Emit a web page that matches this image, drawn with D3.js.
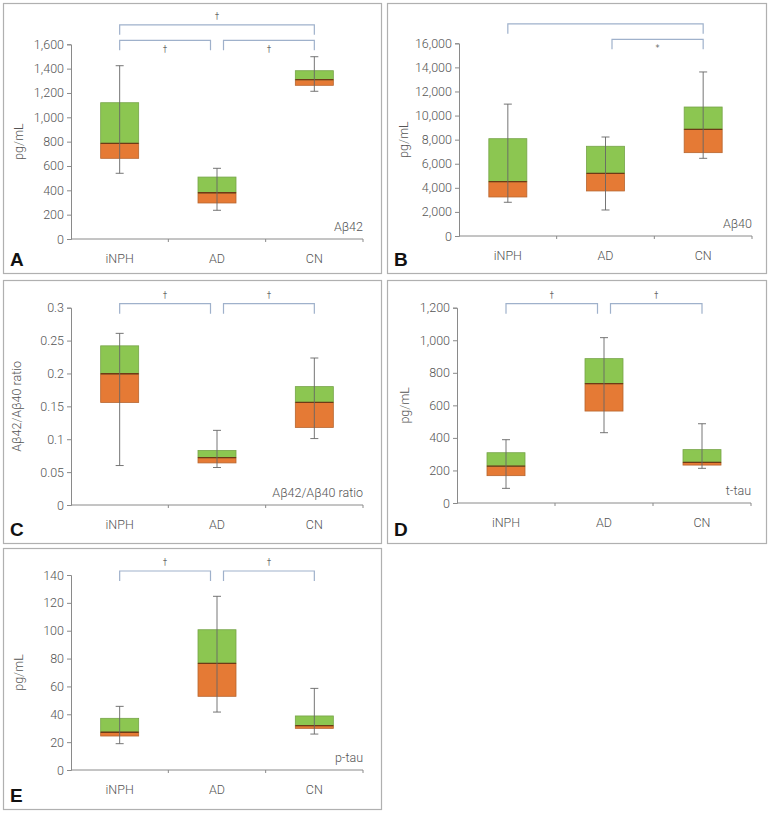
<!DOCTYPE html>
<html>
<head>
<meta charset="utf-8">
<script src="https://cdn.jsdelivr.net/npm/d3@7"></script>
<style>
  body { margin: 0; background: #fff; }
  text { font-family: Roboto, "Open Sans", sans-serif; font-weight: 300; }
</style>
</head>
<body>
<div id="chart"></div>
<script>
const groups = ["iNPH", "AD", "CN"];

// [whisker low, q1, median, q3, whisker high]
const ab42Stats = [[540, 663, 786, 1120, 1424], [236, 296, 380, 509, 581], [1214, 1263, 1309, 1383, 1498]];
const ab42Ticks = [0, 200, 400, 600, 800, 1000, 1200, 1400, 1600];
const ab42Pairs = [[0, 2, 1, "†"], [0, 1, 0, "†"], [1, 2, 0, "†"]];

const ab40Stats = [[2800, 3240, 4510, 8080, 10950], [2160, 3740, 5200, 7450, 8220], [6450, 6920, 8860, 10710, 13620]];
const ab40Ticks = [0, 2000, 4000, 6000, 8000, 10000, 12000, 14000, 16000];
const ab40Pairs = [[0, 2, 1, ""], [1, 2, 0, "*"]];

const ratioStats = [[0.060, 0.156, 0.1996, 0.242, 0.261], [0.057, 0.064, 0.072, 0.083, 0.1135], [0.101, 0.118, 0.156, 0.180, 0.2235]];
const ratioTicks = [0, 0.05, 0.1, 0.15, 0.2, 0.25, 0.3];
const ratioPairs = [[0, 1, 0, "†"], [1, 2, 0, "†"]];

const ttauStats = [[90, 168, 227, 309, 389], [432, 565, 733, 887, 1016], [213, 233, 250, 328, 487]];
const ttauTicks = [0, 200, 400, 600, 800, 1000, 1200];
const ttauPairs = [[0, 1, 0, "†"], [1, 2, 0, "†"]];

const ptauStats = [[18.9, 24.4, 27.1, 37.1, 45.7], [41.6, 52.9, 76.6, 100.7, 124.7], [25.8, 29.9, 31.8, 38.8, 58.6]];
const ptauTicks = [0, 20, 40, 60, 80, 100, 120, 140];
const ptauPairs = [[0, 1, 0, "†"], [1, 2, 0, "†"]];

const green = "#8cc651";
const orange = "#e57a35";
const bracketColor = "#9fb1cb";

const svg = d3.select("#chart").append("svg")
  .attr("width", 770)
  .attr("height", 813);

const panels = [
  {letter: "A", x: 3, y: 3, w: 378, h: 270, left: 71, right: 363, top: 44.3, bottom: 239, titleX: 23,
   stats: ab42Stats, ticks: ab42Ticks, pairs: ab42Pairs, ytitle: "pg/mL", tag: "Aβ42", fmt: d3.format(",")},
  {letter: "B", x: 387, y: 3, w: 379, h: 270, left: 459, right: 752, top: 43.3, bottom: 236, titleX: 408,
   stats: ab40Stats, ticks: ab40Ticks, pairs: ab40Pairs, ytitle: "pg/mL", tag: "Aβ40", fmt: d3.format(",")},
  {letter: "C", x: 3, y: 280, w: 378, h: 263, left: 71, right: 363, top: 307.7, bottom: 505, titleX: 21,
   stats: ratioStats, ticks: ratioTicks, pairs: ratioPairs, ytitle: "Aβ42/Aβ40 ratio", tag: "Aβ42/Aβ40 ratio", fmt: d => String(d)},
  {letter: "D", x: 387, y: 280, w: 379, h: 263, left: 457, right: 751, top: 307.7, bottom: 503, titleX: 409,
   stats: ttauStats, ticks: ttauTicks, pairs: ttauPairs, ytitle: "pg/mL", tag: "t-tau", fmt: d3.format(",")},
  {letter: "E", x: 3, y: 548, w: 378, h: 261, left: 71, right: 363, top: 575, bottom: 770, titleX: 23,
   stats: ptauStats, ticks: ptauTicks, pairs: ptauPairs, ytitle: "pg/mL", tag: "p-tau", fmt: d3.format(",")}
];

panels.forEach(function(p) {
  const g = svg.append("g");

  g.append("rect")
    .attr("x", p.x + 0.5).attr("y", p.y + 0.5)
    .attr("width", p.w).attr("height", p.h)
    .attr("fill", "none")
    .attr("stroke", "#b0b0b0")
    .attr("stroke-width", 1.2);

  const yMax = p.ticks[p.ticks.length - 1];
  const y = d3.scaleLinear().domain([0, yMax]).range([p.bottom, p.top]);
  const x = d3.scaleBand().domain(groups).range([p.left, p.right]);

  // y axis
  const yAxis = g.append("g")
    .attr("transform", "translate(" + p.left + ",0)")
    .call(d3.axisLeft(y).tickValues(p.ticks).tickFormat(p.fmt).tickSize(4).tickPadding(3));
  yAxis.select(".domain").attr("stroke", "#8a8a8a");
  yAxis.selectAll(".tick line").attr("stroke", "#8a8a8a");
  yAxis.selectAll("text").attr("fill", "#555").style("font-size", "12.5px");

  // x axis: ticks at band edges
  const xAxis = g.append("g")
    .attr("transform", "translate(0," + p.bottom + ")");
  xAxis.append("line")
    .attr("x1", p.left).attr("x2", p.right)
    .attr("stroke", "#8a8a8a");
  xAxis.selectAll("line.edge")
    .data(groups)
    .join("line")
      .attr("class", "edge")
      .attr("x1", d => x(d) + x.bandwidth())
      .attr("x2", d => x(d) + x.bandwidth())
      .attr("y1", 0).attr("y2", 3)
      .attr("stroke", "#8a8a8a");
  xAxis.selectAll("text")
    .data(groups)
    .join("text")
      .attr("x", d => x(d) + x.bandwidth() / 2)
      .attr("y", 24)
      .attr("text-anchor", "middle")
      .attr("fill", "#555")
      .style("font-size", "12.5px")
      .text(d => d);

  // y title
  g.append("text")
    .attr("transform", "translate(" + p.titleX + "," + ((p.top + p.bottom) / 2) + ") rotate(-90)")
    .attr("text-anchor", "middle")
    .attr("fill", "#555")
    .style("font-size", "12.5px")
    .text(p.ytitle);

  // tag in lower right
  g.append("text")
    .attr("x", p.right)
    .attr("y", p.bottom - 8)
    .attr("text-anchor", "end")
    .attr("fill", "#555")
    .style("font-size", "12.5px")
    .text(p.tag);

  // panel letter
  g.append("text")
    .attr("x", p.x + 7)
    .attr("y", p.y + p.h - 7)
    .attr("fill", "#111")
    .style("font-family", "'Liberation Sans', Arial, sans-serif")
    .style("font-weight", "bold")
    .style("font-size", "19px")
    .text(p.letter);

  // boxes
  const bw = 38;
  const boxes = g.append("g").selectAll("g")
    .data(p.stats)
    .join("g")
      .attr("transform", (d, i) => "translate(" + (x(groups[i]) + x.bandwidth() / 2) + ",0)");

  boxes.append("rect")
    .attr("x", -bw / 2).attr("width", bw)
    .attr("y", d => y(d[2]))
    .attr("height", d => y(d[1]) - y(d[2]))
    .attr("fill", orange)
    .attr("stroke", "#b7652e")
    .attr("stroke-width", 0.8);

  boxes.append("rect")
    .attr("x", -bw / 2).attr("width", bw)
    .attr("y", d => y(d[3]))
    .attr("height", d => y(d[2]) - y(d[3]))
    .attr("fill", green)
    .attr("stroke", "#76a448")
    .attr("stroke-width", 0.8);

  boxes.append("line")
    .attr("x1", -bw / 2).attr("x2", bw / 2)
    .attr("y1", d => y(d[2])).attr("y2", d => y(d[2]))
    .attr("stroke", "#6e3a16")
    .attr("stroke-width", 1.3);

  boxes.append("line")
    .attr("x1", 0).attr("x2", 0)
    .attr("y1", d => y(d[0])).attr("y2", d => y(d[4]))
    .attr("stroke", "#666")
    .attr("stroke-width", 0.9);

  [0, 4].forEach(function(k) {
    boxes.append("line")
      .attr("x1", -4).attr("x2", 4)
      .attr("y1", d => y(d[k])).attr("y2", d => y(d[k]))
      .attr("stroke", "#666")
      .attr("stroke-width", 0.9);
  });

  // significance brackets
  const hasUpper = p.pairs.some(d => d[2] > 0);
  const inset = 6.5;
  p.pairs.forEach(function(d) {
    let x1 = x(groups[d[0]]) + x.bandwidth() / 2;
    let x2 = x(groups[d[1]]) + x.bandwidth() / 2;
    if (d[0] == 1) x1 += inset;
    if (d[1] == 1) x2 -= inset;
    const top = p.top - 4 - d[2] * 15.5;
    g.append("path")
      .attr("d", "M" + x1 + "," + (top + 10) + "V" + top + "H" + x2 + "V" + (top + 10))
      .attr("fill", "none")
      .attr("stroke", bracketColor)
      .attr("stroke-width", 1.2);
    if (d[3]) {
      const below = d[2] == 0 && hasUpper;
      g.append("text")
        .attr("x", (x1 + x2) / 2)
        .attr("y", below ? top + 12 : top - 6)
        .attr("text-anchor", "middle")
        .attr("fill", "#666")
        .style("font-family", "'DejaVu Sans', sans-serif")
        .style("font-weight", "normal")
        .style("font-size", "8px")
        .text(d[3]);
    }
  });
});
</script>
</body>
</html>
